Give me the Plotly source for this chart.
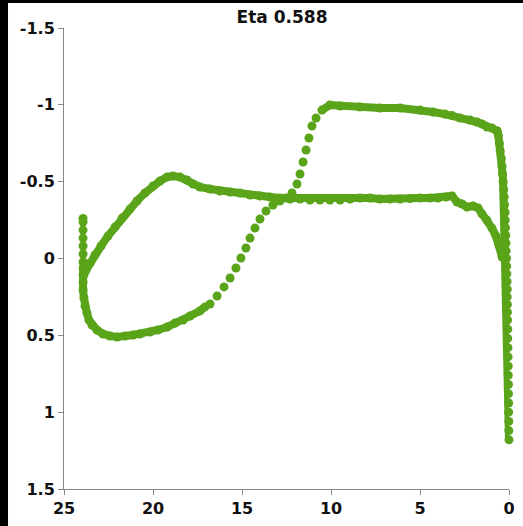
import plotly.graph_objects as go

# ---- data (x position, pressure coefficient) ----
# suction surface near the leading edge (steep rise)
le_x = [0.0, 0.01, 0.01, 0.02, 0.02, 0.03, 0.03, 0.04, 0.04, 0.05, 0.06, 0.07, 0.07, 0.08, 0.09, 0.09,
        0.10, 0.10, 0.11, 0.12, 0.13, 0.14, 0.16, 0.17, 0.18, 0.20, 0.21, 0.22, 0.25, 0.27, 0.30, 0.33,
        0.36, 0.39, 0.43, 0.49, 0.54, 0.60, 0.67]
le_cp = [1.18, 1.12, 1.06, 1.0, 0.94, 0.88, 0.82, 0.76, 0.70, 0.64, 0.58, 0.52, 0.46, 0.40, 0.35, 0.30,
         0.25, 0.20, 0.15, 0.10, 0.05, 0.0, -0.05, -0.10, -0.15, -0.20, -0.25, -0.30, -0.35, -0.40, -0.45,
         -0.50, -0.55, -0.60, -0.65, -0.70, -0.75, -0.80, -0.83]
# suction plateau
plateau_x = [0.67, 0.96, 1.24, 1.52, 1.80, 2.19, 2.75, 3.20, 3.60, 4.27, 5.0, 6.12, 7.25, 8.37, 9.49, 10.06, 10.51]
plateau_cp = [-0.83, -0.85, -0.856, -0.875, -0.888, -0.901, -0.914, -0.93, -0.94, -0.953, -0.966, -0.979,
              -0.979, -0.986, -0.992, -0.999, -0.966]
# shock region (sparse points)
shock_x = [10.84, 11.07, 11.24, 11.40, 11.57, 11.74, 11.91, 12.19, 12.53, 12.87, 13.26, 13.65, 13.99,
           14.27, 14.55, 14.78, 15.06, 15.34, 15.67, 16.01, 16.40, 16.80]
shock_cp = [-0.914, -0.862, -0.784, -0.706, -0.628, -0.550, -0.485, -0.426, -0.394, -0.374, -0.348, -0.309,
            -0.257, -0.198, -0.133, -0.068, -0.003, 0.062, 0.127, 0.185, 0.244, 0.296]
# aft part after the shock, down to the trailing edge
aft_x = [17.08, 17.36, 17.92, 18.31, 18.76, 19.21, 19.72, 20.17, 20.73, 21.12, 21.57, 22.02, 22.42, 22.81,
         23.15, 23.43, 23.60, 23.71, 23.82, 23.88, 23.93, 23.93, 23.93, 23.93]
aft_cp = [0.315, 0.341, 0.374, 0.400, 0.420, 0.446, 0.465, 0.478, 0.491, 0.498, 0.504, 0.511, 0.504, 0.491,
          0.465, 0.433, 0.400, 0.355, 0.309, 0.257, 0.205, 0.153, 0.107, 0.062]
# trailing edge sparse points
te_x = [23.93, 23.93, 23.93, 23.93, 23.93, 23.93, 23.93]
te_cp = [0.023, -0.029, -0.081, -0.133, -0.185, -0.237, -0.26]
# other surface
lower_x = [0.39, 0.56, 0.73, 0.96, 1.24, 1.52, 1.74, 2.02, 2.36, 2.64, 2.92, 3.20, 3.54, 3.99, 4.44, 5.0,
           5.56, 6.12, 6.69, 7.25, 7.81, 8.37, 8.93, 9.49, 10.06, 10.62, 11.18, 11.74, 12.30, 12.87, 13.43,
           13.99, 14.55, 15.11, 15.67, 16.24, 16.80, 17.36, 17.75, 18.09, 18.48, 18.88, 19.21, 19.61, 20.00,
           20.45, 20.90, 21.29, 21.74, 22.13, 22.53, 22.92, 23.26, 23.54, 23.76, 23.88]
lower_cp = [-0.010, -0.088, -0.146, -0.198, -0.250, -0.290, -0.329, -0.342, -0.335, -0.355, -0.368, -0.407,
            -0.400, -0.394, -0.394, -0.394, -0.390, -0.387, -0.387, -0.387, -0.394, -0.394, -0.387, -0.381,
            -0.381, -0.381, -0.381, -0.387, -0.387, -0.394, -0.400, -0.407, -0.413, -0.426, -0.433, -0.439,
            -0.452, -0.465, -0.485, -0.511, -0.530, -0.537, -0.530, -0.504, -0.472, -0.426, -0.374, -0.322,
            -0.263, -0.205, -0.146, -0.081, -0.023, 0.029, 0.075, 0.107]

x_tick_vals = [25, 20, 15, 10, 5, 0]
x_tick_text = ["25", "20", "15", "10", "5", "0"]
y_tick_vals = [-1.5, -1, -0.5, 0, 0.5, 1, 1.5]
y_tick_text = ["-1.5", "-1", "-0.5", "0", "0.5", "1", "1.5"]
title_text = "Eta 0.588"

GREEN = "#5aa41a"
fig = go.Figure()

def add(xs, ys, mode):
    fig.add_trace(go.Scatter(x=xs, y=ys, mode=mode,
                             marker=dict(color=GREEN, size=9),
                             line=dict(color=GREEN, width=8),
                             showlegend=False, hoverinfo="skip", cliponaxis=False))

add(le_x, le_cp, "lines+markers")
add(plateau_x, plateau_cp, "lines+markers")
add(shock_x, shock_cp, "markers")
add(aft_x, aft_cp, "lines+markers")
add(te_x, te_cp, "markers")
add(lower_x, lower_cp, "lines+markers")

axis_font = dict(family="DejaVu Sans", size=16, color="#111", weight="bold")
fig.update_layout(
    width=523, height=526,
    margin=dict(l=64, r=14, t=28, b=37, autoexpand=False),
    paper_bgcolor="white", plot_bgcolor="white",
    title=dict(text=title_text, x=0.49, xref="paper", xanchor="center", y=0.968, yanchor="middle",
               font=dict(family="DejaVu Sans", size=17, color="#111", weight="bold")),
    xaxis=dict(range=[25, 0], tickvals=x_tick_vals, ticktext=x_tick_text, showgrid=False, zeroline=False,
               showline=True, linecolor="#888", linewidth=1, ticks="outside", ticklen=5, tickcolor="#888",
               tickfont=axis_font, automargin=False),
    yaxis=dict(range=[1.5, -1.5], tickvals=y_tick_vals, ticktext=y_tick_text, showgrid=False, zeroline=False,
               showline=True, linecolor="#888", linewidth=1, ticks="outside", ticklen=5, tickcolor="#888",
               tickfont=axis_font, automargin=False),
    shapes=[
        dict(type="rect", xref="paper", yref="paper", x0=-0.1438, x1=-0.1258, y0=-0.09, y1=1.07,
             fillcolor="black", line=dict(width=0)),
        dict(type="rect", xref="paper", yref="paper", x0=-0.1438, x1=1.04, y0=1.0542, y1=1.07,
             fillcolor="black", line=dict(width=0)),
    ],
)

fig.write_html("out.html")
